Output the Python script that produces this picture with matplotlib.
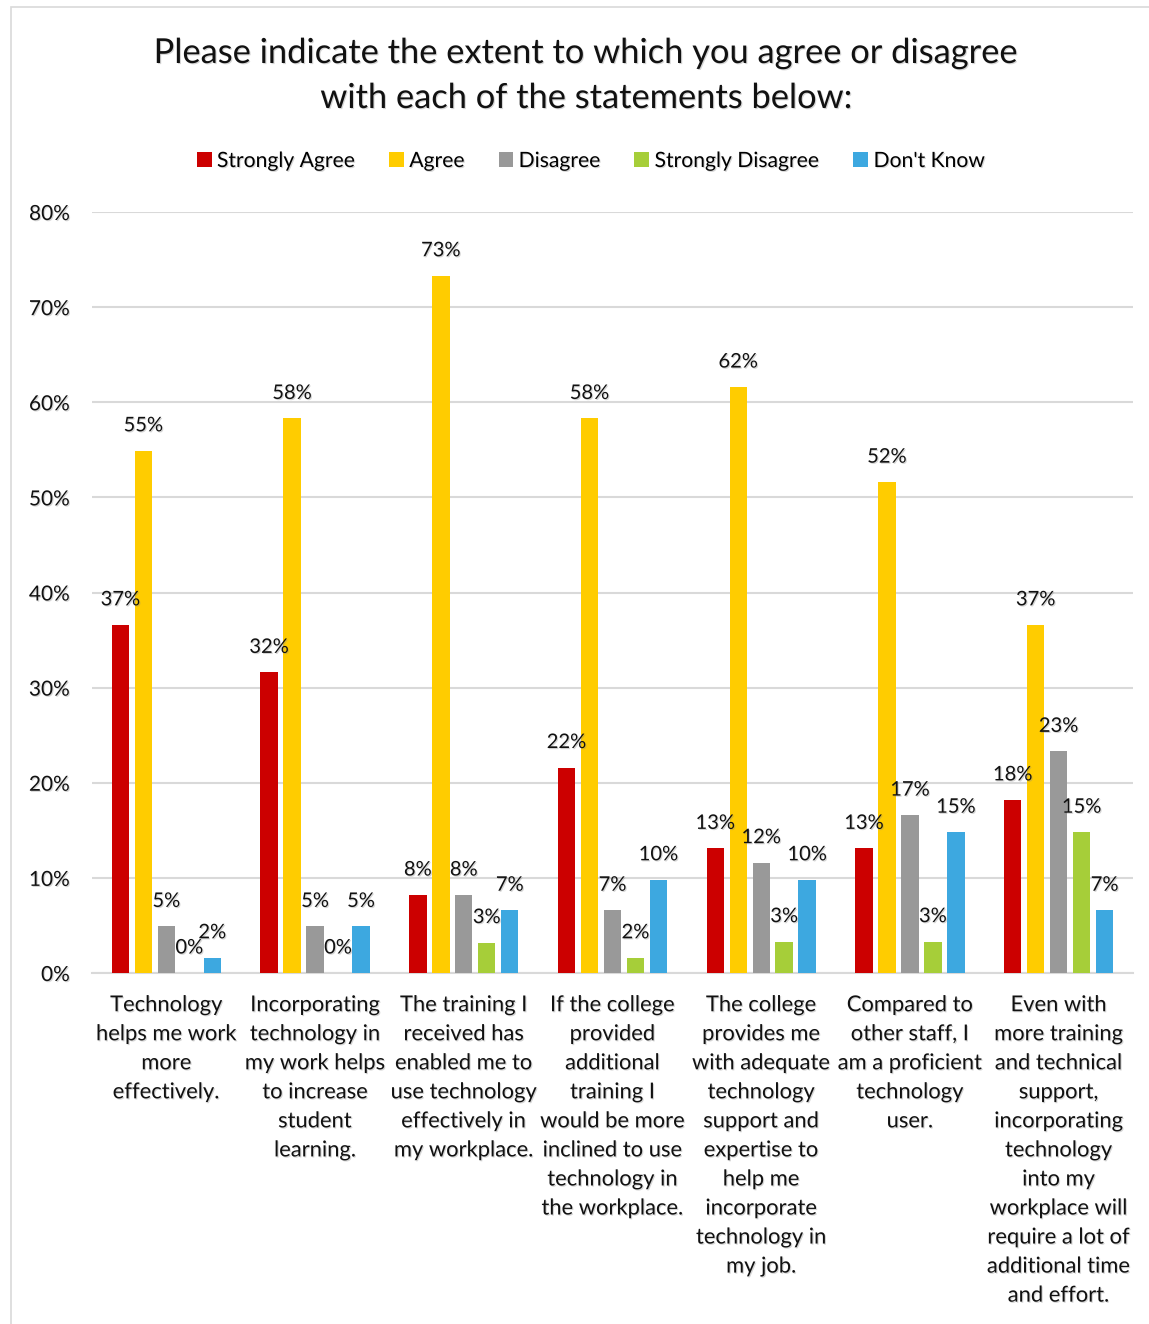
import matplotlib
matplotlib.use("Agg")
import matplotlib.pyplot as plt
import matplotlib.patheffects as pe
from matplotlib.patches import Rectangle
import numpy as np

plt.rcParams['font.family'] = ['Lato', 'DejaVu Sans']

title = "Please indicate the extent to which you agree or disagree\nwith each of the statements below:"

categories = [
    "Technology\nhelps me work\nmore\neffectively.",
    "Incorporating\ntechnology in\nmy work helps\nto increase\nstudent\nlearning.",
    "The training I\nreceived has\nenabled me to\nuse technology\neffectively in\nmy workplace.",
    "If the college\nprovided\nadditional\ntraining I\nwould be more\ninclined to use\ntechnology in\nthe workplace.",
    "The college\nprovides me\nwith adequate\ntechnology\nsupport and\nexpertise to\nhelp me\nincorporate\ntechnology in\nmy job.",
    "Compared to\nother staff, I\nam a proficient\ntechnology\nuser.",
    "Even with\nmore training\nand technical\nsupport,\nincorporating\ntechnology\ninto my\nworkplace will\nrequire a lot of\nadditional time\nand effort.",
]

series_names = ["Strongly Agree", "Agree", "Disagree", "Strongly Disagree", "Don't Know"]
strongly_agree = [36.6, 31.6, 8.2, 21.6, 13.1, 13.1, 18.2]
agree = [54.9, 58.3, 73.3, 58.3, 61.6, 51.6, 36.6]
disagree = [4.9, 4.9, 8.2, 6.6, 11.6, 16.6, 23.3]
strongly_disagree = [0.0, 0.0, 3.2, 1.6, 3.3, 3.3, 14.8]
dont_know = [1.6, 4.9, 6.6, 9.8, 9.8, 14.8, 6.6]
colors = ["#CC0000", "#FFCC00", "#999999", "#A6CE39", "#3DA8E0"]

yticks = [0, 10, 20, 30, 40, 50, 60, 70, 80]
ytick_labels = [f"{t}%" for t in yticks]

series = [strongly_agree, agree, disagree, strongly_disagree, dont_know]

shadow = [pe.SimplePatchShadow(offset=(0.8, -0.8), shadow_rgbFace="#888888", alpha=0.35), pe.Normal()]

fig = plt.figure(figsize=(11.49, 13.24), dpi=100)
fig.patches.append(Rectangle((11 / 1149, -0.01), 1.1, 1 - 7 / 1324 + 0.01,
                             transform=fig.transFigure, fill=False,
                             edgecolor="#D9D9D9", linewidth=1.2))

ax = fig.add_axes([92 / 1149, 1 - 973 / 1324, (1133 - 92) / 1149, (973 - 212) / 1324])

x = np.arange(len(categories))
width = 0.117
step = 0.1545
for i, (vals, name, col) in enumerate(zip(series, series_names, colors)):
    pos = x + (i - 2) * step
    ax.bar(pos, vals, width=width, color=col, label=name, zorder=3)
    for px_, v in zip(pos, vals):
        ax.annotate(f"{round(v)}%", (px_, v), xytext=(0, 18), textcoords="offset points",
                    ha="center", va="center", fontsize=14.5, color="#111111",
                    path_effects=shadow, zorder=5)

ax.set_xlim(-0.5, len(categories) - 0.5)
ax.set_ylim(0, 80)
ax.set_yticks(yticks)
ax.set_yticklabels(ytick_labels)
ax.set_xticks(x)
ax.set_xticklabels(categories, linespacing=1.565, fontsize=15.8)
ax.tick_params(axis="both", length=0, colors="#111111")
ax.tick_params(axis="y", pad=16, labelsize=15)
ax.tick_params(axis="x", pad=16)
for lbl in ax.get_xticklabels() + ax.get_yticklabels():
    lbl.set_path_effects(shadow)

ax.grid(axis="y", color="#D9D9D9", linewidth=1.5, zorder=0)
for s in ["top", "right", "left"]:
    ax.spines[s].set_visible(False)
ax.spines["bottom"].set_color("#D9D9D9")
ax.spines["bottom"].set_linewidth(1.5)

fig.text(587 / 1149, 1 - 75.5 / 1324, title, ha="center", va="center", fontsize=24.8,
         linespacing=1.5, color="#111111", path_effects=shadow)

leg = fig.legend(loc="center", bbox_to_anchor=(591 / 1149, 1 - 161 / 1324), ncol=5,
                 frameon=False, fontsize=15.2, handlelength=0.7, handleheight=0.7,
                 handletextpad=0.25, columnspacing=1.6)
for t in leg.get_texts():
    t.set_path_effects(shadow)

fig.savefig("out.png", dpi=100, facecolor="white")
